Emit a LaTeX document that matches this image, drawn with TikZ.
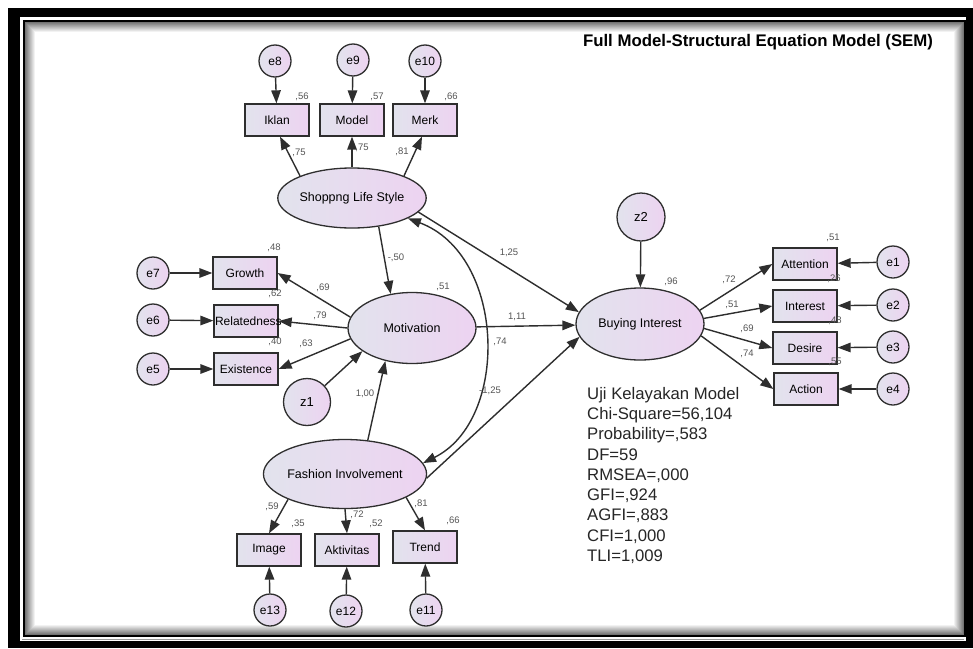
\documentclass[tikz,border=0pt]{standalone}
\usepackage{fontspec}
\setmainfont{Liberation Sans}
\usepackage{tikz}
\usetikzlibrary{arrows.meta,shapes.geometric}

\definecolor{semleft}{HTML}{E2E3ED}
\definecolor{semright}{HTML}{EDD3F1}
\definecolor{semline}{HTML}{2E2E2E}
\definecolor{numgray}{HTML}{555555}

\tikzset{
  semfill/.style={draw=semline, line width=1.3pt, left color=semleft, right color=semright},
  obsbox/.style={semfill, rectangle, minimum width=64pt, minimum height=32pt, inner sep=1pt, font=\fontsize{12}{14}\selectfont},
  latent/.style={semfill, ellipse, minimum width=128pt, minimum height=71pt, inner sep=0pt, font=\fontsize{12.5}{14}\selectfont},
  errc/.style={semfill, circle, minimum size=32pt, inner sep=0pt, font=\fontsize{12}{14}\selectfont},
  distc/.style={errc, minimum size=47pt, font=\fontsize{13}{15}\selectfont},
  sempath/.style={draw=semline, line width=1.4pt, >={Triangle[length=13pt,width=9.5pt]}, ->},
  covpath/.style={sempath, <->},
  coef/.style={font=\fontsize{9.5}{10}\selectfont, text=numgray, inner sep=0pt},
  fitline/.style={font=\fontsize{16.7}{20}\selectfont, text=black!85, inner sep=0pt, anchor=base west}
}

\begin{document}
\begin{tikzpicture}[x=1pt,y=-1pt]
        \useasboundingbox (0,0) rectangle (973,648);
        % frame
        \fill[white] (0,0) rectangle (973,648);
        \fill[black] (8,8) rectangle (973,648);
        \fill[white] (20,17) rectangle (966,641);
        \draw[black!40, line width=0.8pt] (22,639.5) -- (964,639.5);
        \foreach \d in {1,...,12} {
          \pgfmathsetmacro\shd{int(66-5.5*\d)}
          \draw[line width=1.05pt, black!\shd] (24+\d,21+\d) rectangle (965-\d,636-\d);
        }
        \draw[black, line width=2.6pt] (24,21) rectangle (965,636);

        \node[font=\bfseries\fontsize{16.8}{18}\selectfont] (ttl) at (758,42) {Full Model-Structural Equation Model (SEM)};

        % latent variables
        \node[latent, minimum width=126pt, minimum height=60pt] (sls) at (352,198) {Shoppng Life Style};
        \node[latent] (mot) at (412,328) {Motivation};
        \node[latent, minimum height=69pt] (fi) at (345,474) {Fashion Involvement};
        \node[latent, minimum height=72pt] (bi) at (640,324) {Buying Interest};
        \node[distc] (z1) at (307,402) {z1};
        \node[distc, minimum size=48pt] (z2) at (641,217) {z2};

        % indicators
        \node[obsbox] (ikl) at (277,120) {Iklan};
        \node[obsbox] (mod) at (352,120) {Model};
        \node[obsbox] (mer) at (425,120) {Merk};
        \node[obsbox] (gro) at (245,273) {Growth};
        \node[obsbox, text width=62pt, inner sep=1pt, align=center] (rel) at (246,321) {Relatedness};
        \node[obsbox] (exi) at (246,369) {Existence};
        \node[obsbox] (img) at (269,550) {Image};
        \node[obsbox] (akt) at (347,550) {Aktivitas};
        \node[obsbox] (trd) at (425,547) {Trend};
        \node[obsbox] (att) at (805,264) {Attention};
        \node[obsbox] (int) at (805,306) {Interest};
        \node[obsbox] (des) at (805,348) {Desire};
        \node[obsbox] (act) at (806,389) {Action};

        % errors
        \node[errc] (e8) at (275,61) {e8};
        \node[errc] (e9) at (353,60) {e9};
        \node[errc] (e10) at (425,61) {e10};
        \node[errc] (e7) at (153,273) {e7};
        \node[errc] (e6) at (153,320) {e6};
        \node[errc] (e5) at (153,369) {e5};
        \node[errc] (e13) at (270,610) {e13};
        \node[errc] (e12) at (346,611) {e12};
        \node[errc] (e11) at (426,610) {e11};
        \node[errc] (e1) at (893,262) {e1};
        \node[errc] (e2) at (893,305) {e2};
        \node[errc] (e3) at (893,347) {e3};
        \node[errc] (e4) at (893,389) {e4};

        % paths
        \draw[sempath] (e8) -- (ikl);
        \draw[sempath] (e9) -- (mod);
        \draw[sempath] (e10) -- (mer);
        \draw[sempath] (sls.157) -- ([xshift=3pt]ikl.south);
        \draw[sempath] (sls.north) -- (mod.south);
        \draw[sempath] (sls.23) -- ([xshift=-3pt]mer.south);
        \draw[sempath] (e7) -- (gro);
        \draw[sempath] (e6) -- (rel);
        \draw[sempath] (e5) -- (exi);
        \draw[sempath] (mot.170) -- (gro.east);
        \draw[sempath] (mot.west) -- (rel.east);
        \draw[sempath] (mot.190) -- (exi.east);
        \draw[sempath] (sls.-47) -- (mot.122);
        \draw[sempath] (z1) -- (mot.205);
        \draw[sempath] (fi.56) -- (mot.231);
        \draw[sempath] (fi.204) -- (img.north);
        \draw[sempath] (fi.south) -- (akt.north);
        \draw[sempath] (fi.-21) -- (trd.north);
        \draw[sempath] (e13) -- (img);
        \draw[sempath] (e12) -- (akt);
        \draw[sempath] (e11) -- (trd);
        \draw[sempath] (sls.-12) -- (bi.169);
        \draw[sempath] (mot) -- (bi);
        \draw[sempath] (fi.-3) -- (bi.192);
        \draw[covpath] (sls.-20) .. controls (506,255) and (510,420) .. (fi.8);
        \draw[sempath] (z2) -- (bi);
        \draw[sempath] (bi.13) -- (att.west);
        \draw[sempath] (bi.5) -- (int.west);
        \draw[sempath] (bi.-4) -- (des.west);
        \draw[sempath] (bi.-11) -- (act.west);
        \draw[sempath] (e1) -- (att);
        \draw[sempath] (e2) -- (int);
        \draw[sempath] (e3) -- (des);
        \draw[sempath] (e4) -- (act);

        % estimates
        \foreach \x/\y/\t [count=\i] in {302/97/{,56}, 377/97/{,57}, 451/97/{,66}, 299/153/{,75}, 362/148/{,75}, 402/152/{,81},
            274/248/{,48}, 275/294/{,62}, 275/342/{,40}, 323/288/{,69}, 320/316/{,79}, 306/344/{,63}, 365/394/{1,00}, 396/258/{-,50},
            443/287/{,51}, 509/253/{1,25}, 517/317/{1,11}, 500/342/{,74}, 490/391/{-1,25},
            272/507/{,59}, 298/524/{,35}, 357/515/{,72}, 376/524/{,52}, 421/504/{,81}, 453/521/{,66},
            671/282/{,96}, 729/280/{,72}, 732/305/{,51}, 747/329/{,69}, 747/354/{,74},
            833/238/{,51}, 834/279/{,26}, 835/321/{,48}, 835/362/{,55}}
          \node[coef] (est\i) at (\x,\y) {\t};

        % fit indices
        \foreach \t [count=\i] in {Uji Kelayakan Model, {Chi-Square=56,104}, {Probability=,583}, DF=59, {RMSEA=,000},
            {GFI=,924}, {AGFI=,883}, {CFI=1,000}, {TLI=1,009}}
          \node[fitline] (fit\i) at (587,379+20.25*\i) {\t};
\end{tikzpicture}
\end{document}
